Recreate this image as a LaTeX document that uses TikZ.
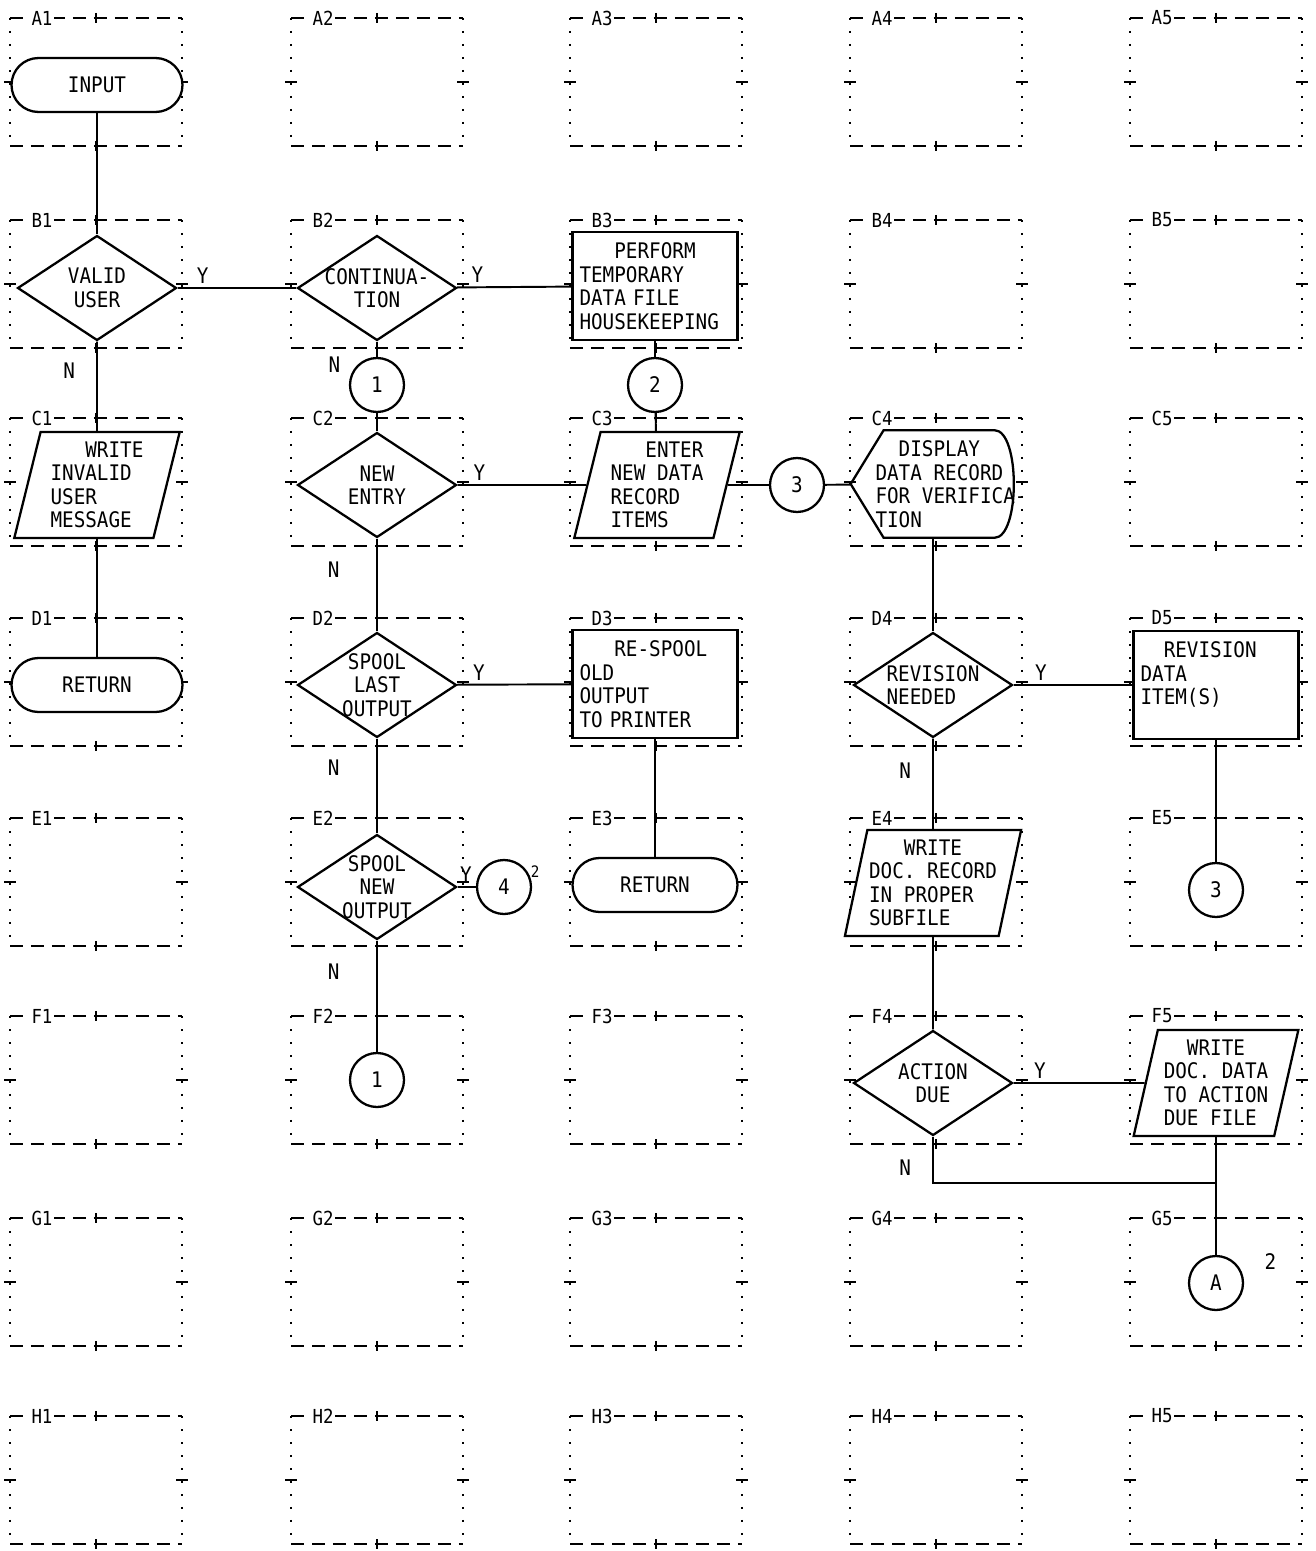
\documentclass[tikz,border=0pt]{standalone}
\usepackage{fontspec}
\setmonofont[FakeStretch=0.9, WordSpace={1,0,0}]{DejaVu Sans Mono}
\usepackage{tikz}
\usetikzlibrary{positioning,shapes.geometric}
\tikzset{
  flowline/.style={line width=1.1pt},
  terminal/.style={draw, line width=1.3pt, fill=white, rounded corners=0.54cm,
    minimum width=3.42cm, minimum height=1.08cm},
  decision/.style={diamond, draw, line width=1.3pt, fill=white, inner sep=0pt,
    minimum width=3.18cm, minimum height=2.1cm, label={[align=center]center:{#1}}},
  process/.style={rectangle, draw, line width=1.3pt, fill=white, minimum height=2.16cm,
    text width=3.02cm, inner xsep=0.14cm, align=left},
  inout/.style={trapezium, trapezium left angle=76, trapezium right angle=104,
    trapezium stretches=true, draw, line width=1.3pt, fill=white,
    minimum width=3.32cm, minimum height=2.12cm, inner sep=1pt, align=left},
  display/.style={minimum width=3.28cm, minimum height=2.14cm, inner sep=0pt},
  connector/.style={circle, draw, line width=1.3pt, fill=white, minimum size=1.08cm, inner sep=0pt},
  branch/.style={inner sep=2pt},
  blockedge/.style={line width=1pt, dash pattern=on 0.26cm off 0.16cm},
  blockside/.style={line width=0.6pt, dash pattern=on 0.04cm off 0.22cm},
  blocktick/.style={line width=0.8pt},
  blocktag/.style={fill=white, inner sep=1pt, font=\ttfamily\fontsize{11}{12}\selectfont},
}
% one dashed block of the chart form
\newcommand{\formblock}[3]{%
  \draw[blockedge] (#1,#2) -- ++(172,0);
  \draw[blockedge] (#1,#2+128) -- ++(172,0);
  \draw[blockside] (#1,#2) -- ++(0,128);
  \draw[blockside] (#1+172,#2) -- ++(0,128);
  \draw[blocktick] (#1-6,#2+64) -- ++(12,0) (#1+166,#2+64) -- ++(12,0)
    (#1+86,#2-5) -- ++(0,10) (#1+86,#2+123) -- ++(0,10);
  \node[blocktag] at (#1+32,#2) {#3};}

\begin{document}
\begin{tikzpicture}[x=0.02cm, y=-0.02cm, font=\ttfamily\fontsize{12.2}{13.4}\selectfont]
  \useasboundingbox (0,0) rectangle (1315,1551);
  \foreach \lft [count=\c] in {10,291,570,850,1130}
    \foreach \r/\tp in {A/18,B/220,C/418,D/618,E/818,F/1016,G/1218,H/1416}
      {\formblock{\lft}{\tp}{\r\c}}

  % column 1
  \node[terminal] (input) at (97,85) {INPUT};
  \node[decision={VALID\\USER}] (valid) at (97,288) {};
  \node[inout] (invmsg) at (97,485) {\phantom{XXX}WRITE\\INVALID\\USER\\MESSAGE};
  \node[terminal] (ret1) at (97,685) {RETURN};
  % column 2
  \node[decision={CONTINUA-\\TION}] (cont) at (377,288) {};
  \node[connector, label={[branch, label distance=0.12cm]165:N}] (onea) at (377,385) {1};
  \node[decision={NEW\\ENTRY}] (newent) at (377,485) {};
  \node[decision={SPOOL\\LAST\\OUTPUT}] (spl) at (377,685) {};
  \node[decision={SPOOL\\NEW\\OUTPUT}] (spn) at (377,887) {};
  \node[connector, label={[inner sep=0pt, font=\ttfamily\fontsize{9}{10}\selectfont]20:2}] (four) at (504,887) {4};
  \node[connector] (oneb) at (377,1080) {1};
  % column 3
  \node[process] (house) at (655,286) {\phantom{XXX}PERFORM\\TEMPORARY\\DATA FILE\\HOUSEKEEPING};
  \node[connector] (two) at (655,385) {2};
  \node[inout] (enter) at (657,485) {\phantom{XXX}ENTER\\NEW DATA\\RECORD\\ITEMS};
  \node[connector] (three) at (797,485) {3};
  \node[process] (respool) at (655,684) {\phantom{XXX}RE-SPOOL\\OLD\\OUTPUT\\TO PRINTER};
  \node[terminal, minimum width=3.3cm] (ret2) at (655,885) {RETURN};
  % column 4
  \node[display, label={[align=left, xshift=0.36cm]center:{\phantom{XX}DISPLAY\\DATA RECORD\\FOR VERIFICA-\\TION}}] (disp) at (933,484) {};
  \draw[line width=1.3pt] (disp.west) -- ([xshift=0.66cm]disp.north west) -- ([xshift=-0.42cm]disp.north east)
    .. controls ([xshift=0.1cm]disp.north east) and ([xshift=0.1cm]disp.south east) .. ([xshift=-0.42cm]disp.south east)
    -- ([xshift=0.66cm]disp.south west) -- cycle;
  \node[decision={REVISION\\NEEDED\phantom{XX}}] (rev) at (933,685) {};
  \node[inout] (wdoc) at (933,883) {\phantom{XXX}WRITE\\DOC. RECORD\\IN PROPER\\SUBFILE};
  \node[decision={ACTION\\DUE}] (act) at (933,1083) {};
  % column 5
  \node[process] (revdata) at (1216,685) {\phantom{XX}REVISION\\DATA\\ITEM(S)\\\mbox{}};
  \node[connector] (three2) at (1216,890) {3};
  \node[inout] (wact) at (1216,1083) {\phantom{XX}WRITE\\DOC. DATA\\TO ACTION\\DUE FILE};
  \node[connector, label={[label distance=0.3cm]10:2}] (ca) at (1216,1283) {A};
  \coordinate (join) at (1216,1183);

  % flow lines
  \draw[flowline] (input) -- (valid);
  \draw[flowline] (valid) -- node[branch, above, pos=0.21] {Y} (cont);
  \draw[flowline] (valid) -- node[branch, left, pos=0.33, xshift=-0.35cm] {N} (invmsg);
  \draw[flowline] (invmsg) -- (ret1);
  \draw[flowline] (cont) -- node[branch, above, pos=0.18] {Y} (house);
  \draw[flowline] (cont) -- (onea);
  \draw[flowline] (onea) -- (newent);
  \draw[flowline] (house) -- (two);
  \draw[flowline] (two) -- (enter);
  \draw[flowline] (newent) -- node[branch, above, pos=0.17] {Y} (enter);
  \draw[flowline] (enter) -- (three);
  \draw[flowline] (three) -- (disp);
  \draw[flowline] (newent) -- node[branch, left, pos=0.34, xshift=-0.66cm] {N} (spl);
  \draw[flowline] (spl) -- node[branch, above, pos=0.19] {Y} (respool);
  \draw[flowline] (respool) -- (ret2);
  \draw[flowline] (spl) -- node[branch, left, pos=0.31, xshift=-0.66cm] {N} (spn);
  \draw[flowline] (spn) -- node[branch, above, pos=0.45] {Y} (four);
  \draw[flowline] (spn) -- node[branch, left, pos=0.28, xshift=-0.66cm] {N} (oneb);
  \draw[flowline] (disp) -- (rev);
  \draw[flowline] (rev) -- node[branch, above, pos=0.23] {Y} (revdata);
  \draw[flowline] (revdata) -- (three2);
  \draw[flowline] (rev) -- node[branch, left, pos=0.35, xshift=-0.35cm] {N} (wdoc);
  \draw[flowline] (wdoc) -- (act);
  \draw[flowline] (act) -- node[branch, above, pos=0.2] {Y} (wact);
  \draw[flowline] (wact) -- (ca);
  \draw[flowline] (act) |- node[branch, left, pos=0.34, xshift=-0.35cm] {N} (join);
\end{tikzpicture}
\end{document}
